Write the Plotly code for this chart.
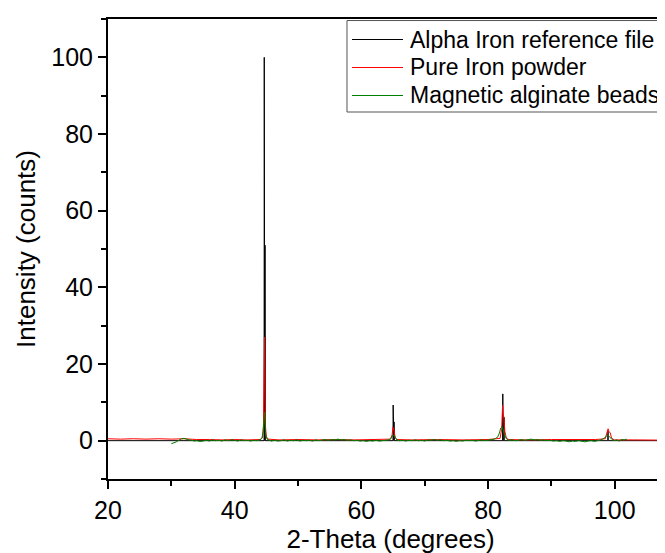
import plotly.graph_objects as go

# Alpha Iron reference file (stick pattern)
ref_x = [20, 44.64, 44.67, 44.70, 44.76, 44.79, 44.82, 64.99, 65.02, 65.05, 65.13, 65.16, 65.19,
         82.30, 82.33, 82.36, 82.49, 82.52, 82.55, 98.91, 98.94, 98.97, 110]
ref_y = [0, 0, 100, 0, 0, 51, 0, 0, 9.3, 0, 0, 4.9, 0,
         0, 12.2, 0, 0, 6.1, 0, 0, 2.5, 0, 0]

# Pure Iron powder
fe_x = [20, 22, 24, 26, 28, 30, 32, 34, 36, 38, 40, 42, 44.0, 44.4, 44.55, 44.65, 44.7, 44.78, 44.85,
        45.0, 45.3, 47, 50, 53, 56, 59, 62, 64.6, 64.85, 65.0, 65.1, 65.2, 65.35, 65.6, 68, 72, 76,
        80, 81.9, 82.15, 82.3, 82.4, 82.5, 82.65, 82.9, 83.3, 86, 90, 94, 97, 98.5, 98.8, 98.95,
        99.1, 99.3, 99.5, 99.9, 103, 106, 110]
fe_y = [0.5, 0.4, 0.5, 0.4, 0.5, 0.4, 0.5, 0.3, 0.3, 0.2, 0.3, 0.2, 0.3, 0.8, 4, 20, 27, 12, 4,
        1, 0.4, 0.2, 0.3, 0.2, 0.3, 0.2, 0.3, 0.4, 1.5, 3.5, 3.0, 2.2, 0.8, 0.3, 0.2, 0.3, 0.2,
        0.3, 0.6, 3, 9.3, 7.0, 6.0, 2.5, 0.6, 0.3, 0.2, 0.3, 0.2, 0.3, 0.5, 2.2, 3.1,
        2.4, 2.0, 0.7, 0.2, 0.2, 0.1, 0.1]

# Magnetic alginate beads
mb_x = [30.0, 30.4, 30.8, 31.2, 31.6, 32.0, 32.4, 32.8, 33.2, 33.6, 34.0, 34.5, 35.0, 35.5, 36.0,
        36.5, 37.0, 37.5, 38.0, 38.5, 39.0, 39.5, 40.0, 40.5, 41.0, 41.5, 42.0, 42.5, 43.0, 43.5,
        44.0, 44.3, 44.5, 44.6, 44.7, 44.8, 44.9, 45.1, 45.4, 45.8, 46.3, 46.8, 47.3, 47.8, 48.3,
        48.8, 49.3, 49.8, 50.3, 50.8, 51.3, 51.8, 52.3, 52.8, 53.3, 53.8, 54.3, 54.8, 55.3, 55.8,
        56.3, 56.8, 57.3, 57.8, 58.3, 58.8, 59.3, 59.8, 60.3, 60.8, 61.3, 61.8, 62.3, 62.8, 63.3,
        63.8, 64.3, 64.7, 64.9, 65.1, 65.3, 65.6, 66.0, 66.5, 67.0, 67.5, 68.0, 68.5, 69.0, 69.5,
        70.0, 70.5, 71.0, 71.5, 72.0, 72.5, 73.0, 73.5, 74.0, 74.5, 75.0, 75.5, 76.0, 76.5, 77.0,
        77.5, 78.0, 78.5, 79.0, 79.5, 80.0, 80.5, 81.0, 81.5, 81.8, 82.0, 82.2, 82.4, 82.6, 82.9,
        83.3, 83.8, 84.3, 84.8, 85.3, 85.8, 86.3, 86.8, 87.3, 87.8, 88.3, 88.8, 89.3, 89.8, 90.3,
        90.8, 91.3, 91.8, 92.3, 92.8, 93.3, 93.8, 94.3, 94.8, 95.3, 95.8, 96.3, 96.8, 97.3, 97.8,
        98.3, 98.6, 98.9, 99.2, 99.5, 99.9, 100.3, 100.7, 101.1, 101.5, 101.9]
mb_y = [-0.8, -0.6, -0.3, 0.1, 0.5, 0.6, 0.3, 0.2, 0.1, -0.1, 0.0, -0.2, -0.1, 0.1, -0.1,
        0.2, 0.0, 0.1, -0.1, 0.2, 0.0, 0.2, 0.1, -0.1, 0.2, 0.0, 0.1, -0.1, 0.1, 0.0,
        0.2, 0.6, 2.5, 5.5, 7.5, 4.0, 1.5, 0.4, 0.1, -0.1, 0.1, -0.1, 0.0, 0.2, -0.1,
        0.1, 0.0, 0.2, -0.1, 0.1, 0.0, 0.1, -0.1, 0.2, 0.0, 0.1, 0.3, 0.1, 0.3, 0.2,
        0.4, 0.2, 0.3, 0.1, 0.2, 0.0, 0.1, -0.1, 0.0, -0.2, 0.0, -0.1, 0.1, -0.1, 0.0,
        0.1, 0.2, 0.6, 1.3, 1.5, 0.8, 0.2, 0.0, 0.1, -0.1, 0.1, 0.0, 0.2, 0.0, 0.1,
        -0.1, 0.2, 0.1, 0.3, 0.1, 0.2, 0.0, 0.1, -0.1, 0.0, -0.2, 0.0, -0.1, 0.1, 0.0,
        0.1, -0.1, 0.1, 0.2, 0.0, 0.1, 0.2, 0.4, 0.9, 2.0, 3.3, 3.6, 2.8, 1.5, 0.5,
        0.1, 0.2, 0.0, 0.1, 0.3, 0.1, 0.2, 0.4, 0.2, 0.3, 0.1, 0.2, 0.0, 0.1, -0.1,
        0.0, -0.2, 0.0, -0.1, -0.3, -0.1, -0.2, 0.0, -0.1, -0.3, -0.1, 0.0, -0.2, 0.0, 0.2,
        0.6, 1.2, 1.5, 1.0, 0.4, 0.0, 0.2, -0.1, 0.3, 0.2, 0.4]

names = ["Alpha Iron reference file", "Pure Iron powder", "Magnetic alginate beads"]
colors = ["#000000", "#FF0000", "#008000"]

FONT = "Liberation Sans, Arial, sans-serif"

fig = go.Figure()
for xs, ys, nm, c in [(ref_x, ref_y, names[0], colors[0]),
                      (fe_x, fe_y, names[1], colors[1]),
                      (mb_x, mb_y, names[2], colors[2])]:
    fig.add_trace(go.Scatter(x=xs, y=ys, mode="lines", name=nm, showlegend=False,
                             line=dict(color=c, width=1)))

axis_common = dict(
    showline=True, linecolor="black", linewidth=2,
    ticks="outside", ticklen=8, tickwidth=2, tickcolor="black",
    showgrid=False, zeroline=False,
    tickfont=dict(family=FONT, size=25, color="black"),
)

fig.update_xaxes(
    range=[20, 109.2], dtick=20, tick0=0,
    minor=dict(dtick=10, ticks="outside", ticklen=5, tickwidth=2, tickcolor="black"),
    mirror=True,
    title=dict(text="2-Theta (degrees)", font=dict(family=FONT, size=26, color="black"), standoff=6),
    **axis_common,
)
fig.update_yaxes(
    range=[-10, 110], dtick=20, tick0=0,
    minor=dict(dtick=10, ticks="outside", ticklen=5, tickwidth=2, tickcolor="black"),
    title=dict(text="Intensity (counts)", font=dict(family=FONT, size=26, color="black"), standoff=8),
    **axis_common,
)

# Legend box drawn in paper coordinates (Origin-style legend)
fig.add_shape(type="rect", xref="paper", yref="paper",
              x0=0.4230, x1=1.01, y0=0.7978, y1=0.9967,
              line=dict(color="#555555", width=1), fillcolor="white", layer="above")
row_y = [0.9554, 0.8946, 0.8337]
for nm, c, yy in zip(names, colors, row_y):
    fig.add_shape(type="line", xref="paper", yref="paper",
                  x0=0.4319, x1=0.5221, y0=yy, y1=yy,
                  line=dict(color=c, width=1.2), layer="above")
    fig.add_annotation(xref="paper", yref="paper", x=0.531, y=yy,
                       xanchor="left", yanchor="middle", showarrow=False,
                       text=nm, font=dict(family=FONT, size=23, color="black"))

fig.update_layout(
    width=665, height=553,
    margin=dict(l=100, r=0, t=11, b=82),
    plot_bgcolor="white", paper_bgcolor="white",
    showlegend=False,
)

fig.write_html("out.html")
